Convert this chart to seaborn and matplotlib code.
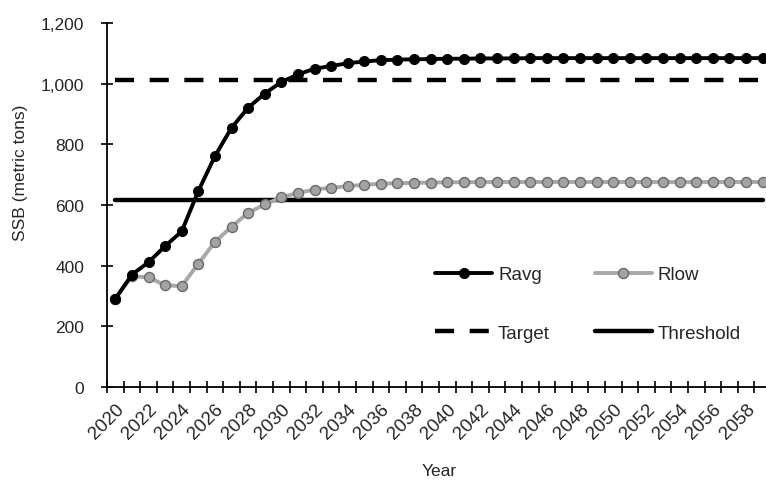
import numpy as np
import pandas as pd
import matplotlib
matplotlib.use("Agg")
import matplotlib.pyplot as plt
import seaborn as sns

years = list(range(2020, 2060))
ravg = [290, 370, 411, 464, 513, 646, 761, 855, 921, 968,
        1006, 1031, 1050, 1059, 1068, 1074, 1078, 1080, 1081, 1082,
        1083, 1083, 1084, 1084, 1084, 1085, 1085, 1085, 1085, 1085,
        1085, 1085, 1085, 1085, 1085, 1085, 1085, 1085, 1085, 1085]
rlow = [290, 365, 361, 335, 332, 406, 478, 528, 574, 602,
        625, 640, 651, 657, 662, 667, 670, 672, 673, 674,
        675, 675, 676, 676, 676, 676, 676, 676, 676, 676,
        676, 676, 676, 676, 676, 676, 676, 676, 676, 676]
target_value = 1014
threshold_value = 618
tick_labels = [str(y) for y in years[::2]]

sns.set_theme(style="white")
plt.rcParams['font.family'] = ['Liberation Sans', 'DejaVu Sans']

df = pd.DataFrame({"Year": years, "Ravg": ravg, "Rlow": rlow,
                   "Target": [target_value] * len(years),
                   "Threshold": [threshold_value] * len(years)})

fig = plt.figure(figsize=(7.66, 4.81), dpi=100)
ax = fig.add_axes([0.1397, 0.194, 0.8668, 0.7555])

sns.lineplot(data=df, x="Year", y="Ravg", ax=ax, color="black", linewidth=2.8,
             marker="o", markersize=7.2, markerfacecolor="black",
             markeredgecolor="black", label="Ravg", zorder=4)
sns.lineplot(data=df, x="Year", y="Rlow", ax=ax, color="#a8a8a8", linewidth=2.8,
             marker="o", markersize=7.2, markerfacecolor="#a3a3a3",
             markeredgecolor="#6a6a6a", markeredgewidth=1.0, label="Rlow", zorder=3)
sns.lineplot(data=df, x="Year", y="Target", ax=ax, color="black", linewidth=3.2,
             label="Target", zorder=2)
ax.lines[-1].set_dashes([4.3, 3.5])
sns.lineplot(data=df, x="Year", y="Threshold", ax=ax, color="black", linewidth=3.2,
             label="Threshold", zorder=2)

ax.set_xlim(2019.5, 2059.5)
ax.set_ylim(0, 1200)
ax.set_yticks(range(0, 1201, 200))
ax.set_yticklabels([f"{v:,}" for v in range(0, 1201, 200)], fontsize=12.5, color="#262626")
ax.set_xticks(years[::2])
ax.set_xticklabels(tick_labels, rotation=45, ha="right", rotation_mode="anchor",
                   fontsize=13.5, color="#262626")
ax.set_xticks([y - 0.5 for y in years] + [2059.5], minor=True)
ax.tick_params(axis="x", which="major", length=0, pad=10)
ax.tick_params(axis="x", which="minor", length=9, width=1.2, direction="inout",
               color="black", bottom=True)
ax.tick_params(axis="y", which="major", length=9, width=1.2, direction="inout",
               color="black", left=True, pad=12)

for s in ["top", "right"]:
    ax.spines[s].set_visible(False)
for s in ["left", "bottom"]:
    ax.spines[s].set_color("black")
    ax.spines[s].set_linewidth(1.3)

ax.set_xlabel("Year", fontsize=12.5, color="#262626")
ax.set_ylabel("SSB (metric tons)", fontsize=12.5, color="#262626")
ax.xaxis.set_label_coords(0.5, (387 - 478) / 363)
ax.yaxis.set_label_coords((28 - 107) / 664, (387 - 172) / 363)
ax.xaxis.label.set_va("bottom")
ax.grid(False)

handles, labels = ax.get_legend_handles_labels()
order = [0, 2, 1, 3]
leg = ax.legend([handles[i] for i in order], [labels[i] for i in order],
                ncol=2, frameon=False, fontsize=13.5, handlelength=3.05,
                labelspacing=2.2, columnspacing=2.4, handletextpad=0.3,
                loc="center", bbox_to_anchor=(588 / 766, 1 - 305 / 481),
                bbox_transform=fig.transFigure)

fig.savefig("out.png", dpi=100)
